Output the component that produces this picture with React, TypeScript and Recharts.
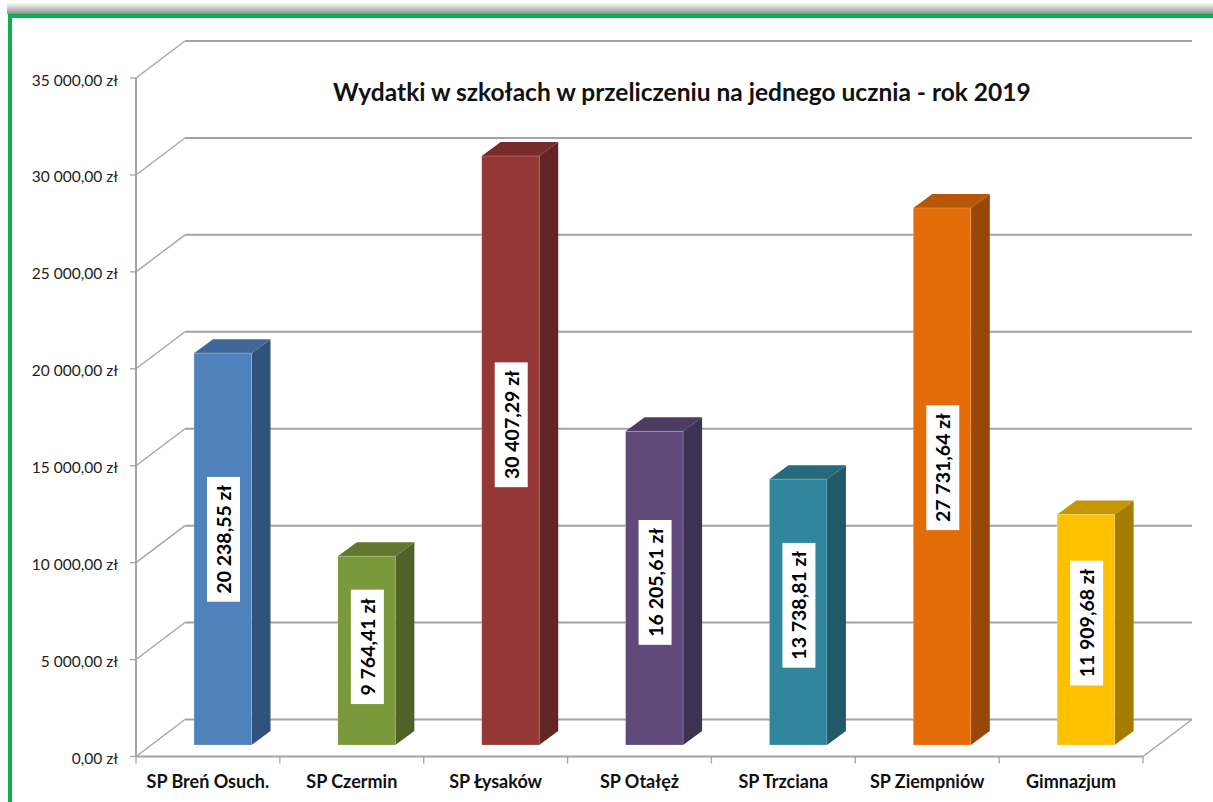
import React from "react";
import { BarChart, Bar, XAxis, YAxis, CartesianGrid, LabelList } from "recharts";

const categories = ["SP Breń Osuch.", "SP Czermin", "SP Łysaków", "SP Otałęż", "SP Trzciana", "SP Ziempniów", "Gimnazjum"];
const values = [20238.55, 9764.41, 30407.29, 16205.61, 13738.81, 27731.64, 11909.68];
const yTicks = [0, 5000, 10000, 15000, 20000, 25000, 30000, 35000];
const titleText = "Wydatki w szkołach w przeliczeniu na jednego ucznia - rok 2019";

const frontColors = ["#4F81BD", "#7A993B", "#953735", "#604A7B", "#31859C", "#E36C09", "#FFC000"];
const topColors = ["#3F6797", "#62762F", "#772C2A", "#4D3B62", "#276A7D", "#B65708", "#C49600"];
const sideColors = ["#325379", "#4F6228", "#632523", "#3F3151", "#215968", "#974806", "#A67C00"];
const labelLift = [10, 4, 26, 6, 7, 9, 7];

const rows = categories.map((name, i) => ({ name, value: values[i] }));

const DEPTH_X = 49;
const DEPTH_Y = 37;
const BAR_DX = 15;
const BAR_DY = -11;
const SIDE_X = 19;
const SIDE_Y = 14;
const FONT = "Lato, sans-serif";
const GRID = "#A3A3A3";

function money(v: number) {
  const [a, b] = v.toFixed(2).split(".");
  return `${a.replace(/\B(?=(\d{3})+$)/g, " ")},${b} zł`;
}

function GridLine(p: any) {
  const { x1, x2, y1, index } = p;
  const bx = x1 + DEPTH_X;
  const by = y1 - DEPTH_Y;
  const isFloor = Math.abs(y1 - 756.5) < 1;
  return (
    <g key={`g${y1}-${index}`}>
      <line x1={x1} y1={y1} x2={bx} y2={by} stroke={GRID} strokeWidth={1.3} />
      <line x1={bx} y1={by} x2={x2 + DEPTH_X} y2={by} stroke={GRID} strokeWidth={2} />
      {isFloor ? <line x1={x2} y1={y1} x2={x2 + DEPTH_X} y2={by} stroke={GRID} strokeWidth={1.3} /> : null}
    </g>
  );
}

function Bar3D(p: any) {
  const { x, y, width, height, index } = p;
  const l = x + BAR_DX;
  const r = l + width - 0.5;
  const t = y + BAR_DY;
  const b = t + height - 0.5;
  return (
    <g>
      <polygon points={`${r},${t} ${r + SIDE_X},${t - SIDE_Y} ${r + SIDE_X},${b - SIDE_Y} ${r},${b}`} fill={sideColors[index]} />
      <polygon points={`${l},${t} ${l + SIDE_X},${t - SIDE_Y} ${r + SIDE_X},${t - SIDE_Y} ${r},${t}`} fill={topColors[index]} />
      <rect x={l} y={t} width={r - l} height={b - t} fill={frontColors[index]} stroke="#ffffff" strokeOpacity={0.2} strokeWidth={1} />
    </g>
  );
}

function BarLabel(p: any) {
  const { x, y, width, height, value, index } = p;
  const cx = x + BAR_DX + width / 2 + 0.5;
  const cy = y + BAR_DY + height / 2 - labelLift[index];
  const s = money(value);
  const boxH = s.length * 10.4;
  return (
    <g>
      <rect x={cx - 16.5} y={cy - boxH / 2} width={33} height={boxH} fill="#ffffff" />
      <text
        transform={`translate(${cx},${cy}) rotate(-90)`}
        textAnchor="middle"
        dominantBaseline="central"
        fontFamily={FONT}
        fontWeight={700}
        fontSize={19.5}
        fill="#000000"
      >
        {s}
      </text>
    </g>
  );
}

function CatTick(p: any) {
  const { x, y, width, payload, index } = p;
  const band = width / categories.length;
  const edge = x + band / 2;
  return (
    <g>
      {index === 0 ? <line x1={x - band / 2} y1={y - 8} x2={x - band / 2} y2={y - 1} stroke={GRID} strokeWidth={1.3} /> : null}
      <line x1={edge} y1={y - 8} x2={edge} y2={y - 1} stroke={GRID} strokeWidth={1.3} />
      <text x={x} y={y + 23} textAnchor="middle" fontFamily={FONT} fontWeight={700} fontSize={18} fill="#111111">
        {payload.value}
      </text>
    </g>
  );
}

function ValueTick(p: any) {
  const { x, y, payload } = p;
  return (
    <text x={x} y={y + 7.5} textAnchor="end" fontFamily={FONT} fontSize={15.5} fill="#222222">
      {money(payload.value)}
    </text>
  );
}

export default function App() {
  return (
    <div style={{ position: "absolute", left: 0, top: 0, width: 1213, height: 802, overflow: "hidden", background: "#fff" }}>
      <div style={{ position: "absolute", left: 7, right: 0, top: 2, height: 12, background: "linear-gradient(to bottom, #ffffff, #dcdcdc 35%, #8e8e8e)" }} />
      <div style={{ position: "absolute", left: 8, right: 0, top: 14, height: 4, background: "#0CB050" }} />
      <div style={{ position: "absolute", left: 8, width: 4, top: 14, bottom: 0, background: "#0CB050" }} />
      <div
        style={{
          position: "absolute",
          left: 333,
          top: 77,
          width: 696,
          textAlign: "center",
          whiteSpace: "nowrap",
          fontFamily: FONT,
          fontWeight: 700,
          fontSize: 24.5,
          lineHeight: "30px",
          color: "#111",
        }}
      >
        {titleText}
      </div>
      <div style={{ position: "absolute", left: 0, top: 0 }}>
        <BarChart width={1213} height={802} data={rows} margin={{ top: 78, right: 70, bottom: 0, left: 0 }} barSize={58}>
          <CartesianGrid vertical={false} horizontal={GridLine as any} />
          <XAxis
            dataKey="name"
            height={45.5}
            interval={0}
            tick={CatTick as any}
            tickLine={false}
            axisLine={{ stroke: GRID, strokeWidth: 2 }}
          />
          <YAxis
            type="number"
            width={136}
            domain={[0, 35000]}
            ticks={yTicks}
            interval={0}
            tickSize={6}
            tickMargin={12}
            tick={ValueTick as any}
            tickLine={{ stroke: GRID, strokeWidth: 1.3 }}
            axisLine={{ stroke: GRID, strokeWidth: 2 }}
          />
          <Bar dataKey="value" isAnimationActive={false} shape={Bar3D as any}>
            <LabelList dataKey="value" content={BarLabel as any} />
          </Bar>
        </BarChart>
      </div>
    </div>
  );
}
